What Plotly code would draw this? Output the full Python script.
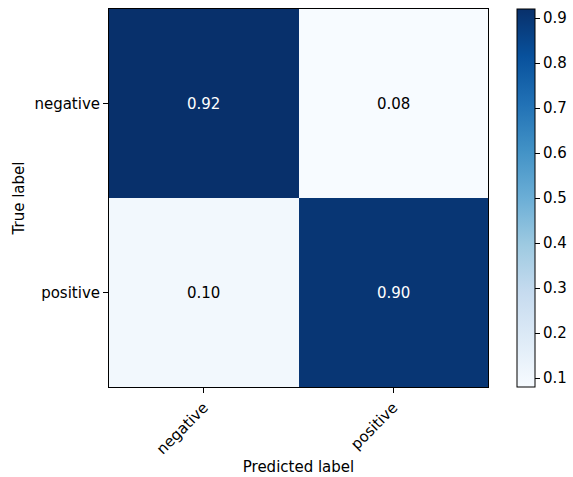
import plotly.graph_objects as go

# Normalized confusion matrix
classes = ["negative", "positive"]
matrix = [[0.92, 0.08],
          [0.10, 0.90]]
cbar_ticks = [0.1, 0.2, 0.3, 0.4, 0.5, 0.6, 0.7, 0.8, 0.9]

blues = ["#f7fbff", "#deebf7", "#c6dbef", "#9ecae1", "#6baed6",
         "#4292c6", "#2171b5", "#08519c", "#08306b"]
colorscale = [[i / (len(blues) - 1), c] for i, c in enumerate(blues)]

zmin = min(min(r) for r in matrix)
zmax = max(max(r) for r in matrix)
thresh = (zmin + zmax) / 2

font = "DejaVu Sans, Liberation Sans, sans-serif"
fs = 15

W, H = 573, 477
ml, mr, mt, mb = 109, 4, 9, 90
pw = W - ml - mr
plot_right = 488
cbar_left = 517

fig = go.Figure(go.Heatmap(
    z=matrix, x=classes, y=classes,
    colorscale=colorscale, zmin=zmin, zmax=zmax,
    hoverinfo="skip",
    colorbar=dict(
        x=(cbar_left - ml) / pw, xanchor="left", xref="paper",
        y=0.5, yanchor="middle", len=1.0, lenmode="fraction",
        thickness=18, outlinewidth=1, outlinecolor="black",
        tickvals=cbar_ticks, ticktext=[f"{t:.1f}" for t in cbar_ticks],
        ticks="outside", ticklen=5, tickwidth=1, tickcolor="black",
        tickfont=dict(family=font, size=fs, color="black"),
        xpad=0, ypad=0,
    ),
))

annotations = []
for i, row in enumerate(matrix):
    for j, v in enumerate(row):
        annotations.append(dict(
            x=classes[j], y=classes[i], text=f"{v:.2f}", showarrow=False,
            font=dict(family=font, size=fs,
                      color="white" if v > thresh else "black"),
        ))

fig.update_layout(
    width=W, height=H,
    margin=dict(l=ml, r=mr, t=mt, b=mb, autoexpand=False),
    paper_bgcolor="white", plot_bgcolor="white",
    annotations=annotations,
    xaxis=dict(
        domain=[0, (plot_right - ml) / pw], automargin=False,
        title=dict(text="Predicted label", font=dict(family=font, size=fs, color="black"), standoff=4),
        tickangle=-45, ticks="outside", ticklen=5, tickcolor="black",
        tickfont=dict(family=font, size=fs, color="black"),
        showline=True, linecolor="black", linewidth=1, mirror=True,
        showgrid=False, zeroline=False,
    ),
    yaxis=dict(
        automargin=False,
        title=dict(text="True label", font=dict(family=font, size=fs, color="black"), standoff=6),
        autorange="reversed", ticks="outside", ticklen=5, tickcolor="black",
        tickfont=dict(family=font, size=fs, color="black"),
        showline=True, linecolor="black", linewidth=1, mirror=True,
        showgrid=False, zeroline=False,
    ),
)

fig.write_html("out.html")
